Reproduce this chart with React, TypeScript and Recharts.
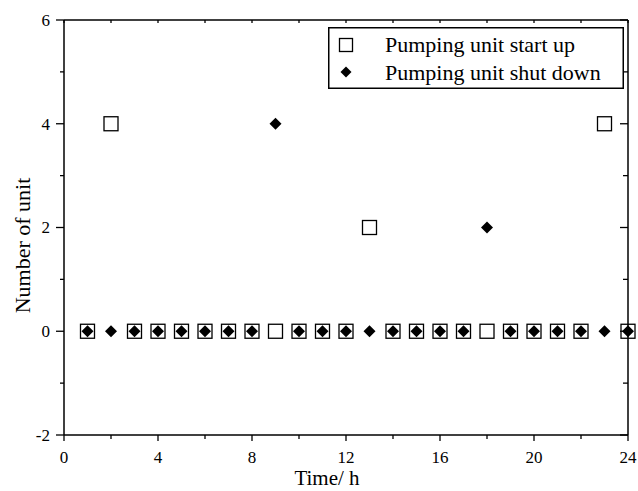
import React from "react";
import {
  ScatterChart,
  Scatter,
  XAxis,
  YAxis,
  Legend,
} from "recharts";

const hours = [1, 2, 3, 4, 5, 6, 7, 8, 9, 10, 11, 12, 13, 14, 15, 16, 17, 18, 19, 20, 21, 22, 23, 24];
const startUp = [0, 4, 0, 0, 0, 0, 0, 0, 0, 0, 0, 0, 2, 0, 0, 0, 0, 0, 0, 0, 0, 0, 4, 0];
const shutDown = [0, 0, 0, 0, 0, 0, 0, 0, 4, 0, 0, 0, 0, 0, 0, 0, 0, 2, 0, 0, 0, 0, 0, 0];
const xTicks = [0, 2, 4, 6, 8, 10, 12, 14, 16, 18, 20, 22, 24];
const yTicks = [-2, -1, 0, 1, 2, 3, 4, 5, 6];

const startData = hours.map((h, i) => ({ x: h, y: startUp[i] }));
const shutData = hours.map((h, i) => ({ x: h, y: shutDown[i] }));

const FONT = '"Liberation Serif", "Times New Roman", serif';
const axisLine = { stroke: "#000", strokeWidth: 1.5 };

const BottomTick = ({ x, y, payload }: any) => {
  const major = payload.value % 4 === 0;
  return (
    <g>
      <line x1={x} x2={x} y1={y} y2={y + (major ? 6 : 4)} stroke="#000" strokeWidth={1.3} />
      {major && (
        <text x={x} y={y + 28} textAnchor="middle" fontSize={17} fontFamily={FONT} fill="#000">
          {payload.value}
        </text>
      )}
    </g>
  );
};

const LeftTick = ({ x, y, payload }: any) => {
  const major = payload.value % 2 === 0;
  return (
    <g>
      <line x1={x - (major ? 8 : 4)} x2={x} y1={y} y2={y} stroke="#000" strokeWidth={1.3} />
      {major && (
        <text x={x - 14} y={y} dy="0.35em" textAnchor="end" fontSize={17} fontFamily={FONT} fill="#000">
          {payload.value}
        </text>
      )}
    </g>
  );
};

const TopTick = ({ x, y }: any) => (
  <line x1={x} x2={x} y1={y} y2={y + 3} stroke="#000" strokeWidth={1.3} />
);

const RightTick = ({ x, y, payload }: any) => {
  const major = payload.value % 2 === 0;
  return <line x1={x - (major ? 8 : 5)} x2={x} y1={y} y2={y} stroke="#000" strokeWidth={1.3} />;
};

const Square = ({ cx, cy }: any) => (
  <rect x={cx - 7} y={cy - 7} width={14} height={14} fill="none" stroke="#000" strokeWidth={1.3} />
);

const Diamond = ({ cx, cy }: any) => (
  <polygon
    points={`${cx},${cy - 6} ${cx + 6},${cy} ${cx},${cy + 6} ${cx - 6},${cy}`}
    fill="#000"
  />
);

const LegendBox = () => (
  <svg width={296} height={62} style={{ display: "block" }}>
    <rect x={0.75} y={0.75} width={294.5} height={60.5} fill="#fff" stroke="#000" strokeWidth={1.5} />
    <rect x={11.5} y={11.5} width={13} height={13} fill="none" stroke="#000" strokeWidth={1.3} />
    <polygon points="18,39.5 23.5,45 18,50.5 12.5,45" fill="#000" />
    <text x={57} y={25} fontSize={22} fontFamily={FONT} fill="#000">
      Pumping unit start up
    </text>
    <text x={57} y={53} fontSize={22} fontFamily={FONT} fill="#000">
      Pumping unit shut down
    </text>
  </svg>
);

export default function App() {
  return (
    <div style={{ position: "absolute", left: 0, top: 0, background: "#fff" }}>
      <ScatterChart width={638} height={491} margin={{ top: 19, right: 9, bottom: 0, left: 0 }}>
        <XAxis
          type="number"
          dataKey="x"
          domain={[0, 24]}
          ticks={xTicks}
          interval={0}
          height={56}
          axisLine={axisLine}
          tickLine={false}
          tickSize={0}
          tickMargin={0}
          tick={<BottomTick />}
          label={{
            content: ({ viewBox }: any) => (
              <text
                x={viewBox.x + viewBox.width / 2 - 19}
                y={viewBox.y + 50}
                textAnchor="middle"
                fontSize={21}
                fontFamily={FONT}
                fill="#000"
              >
                Time/ h
              </text>
            ),
          }}
        />
        <XAxis
          xAxisId="top"
          orientation="top"
          type="number"
          dataKey="x"
          domain={[0, 24]}
          ticks={xTicks}
          interval={0}
          height={1}
          axisLine={axisLine}
          tickLine={false}
          tickSize={0}
          tickMargin={0}
          tick={<TopTick />}
        />
        <YAxis
          type="number"
          dataKey="y"
          domain={[-2, 6]}
          ticks={yTicks}
          interval={0}
          width={64}
          axisLine={axisLine}
          tickLine={false}
          tickSize={0}
          tickMargin={0}
          tick={<LeftTick />}
          label={{
            content: ({ viewBox }: any) => {
              const cx = 22;
              const cy = viewBox.y + viewBox.height / 2 + 18;
              return (
                <text
                  x={cx}
                  y={cy}
                  dy="0.35em"
                  textAnchor="middle"
                  transform={`rotate(-90 ${cx} ${cy})`}
                  fontSize={22}
                  fontFamily={FONT}
                  fill="#000"
                >
                  Number of unit
                </text>
              );
            },
          }}
        />
        <YAxis
          yAxisId="right"
          orientation="right"
          type="number"
          dataKey="y"
          domain={[-2, 6]}
          ticks={yTicks}
          interval={0}
          width={1}
          axisLine={axisLine}
          tickLine={false}
          tickSize={0}
          tickMargin={0}
          tick={<RightTick />}
        />
        <Legend
          layout="vertical"
          align="center"
          verticalAlign="middle"
          wrapperStyle={{ left: 328, top: 27, width: 296, height: 62 }}
          content={() => <LegendBox />}
        />
        <Scatter name="Pumping unit start up" data={startData} shape={<Square />} isAnimationActive={false} />
        <Scatter
          name="Pumping unit shut down"
          data={shutData}
          xAxisId="top"
          yAxisId="right"
          shape={<Diamond />}
          isAnimationActive={false}
        />
      </ScatterChart>
    </div>
  );
}
